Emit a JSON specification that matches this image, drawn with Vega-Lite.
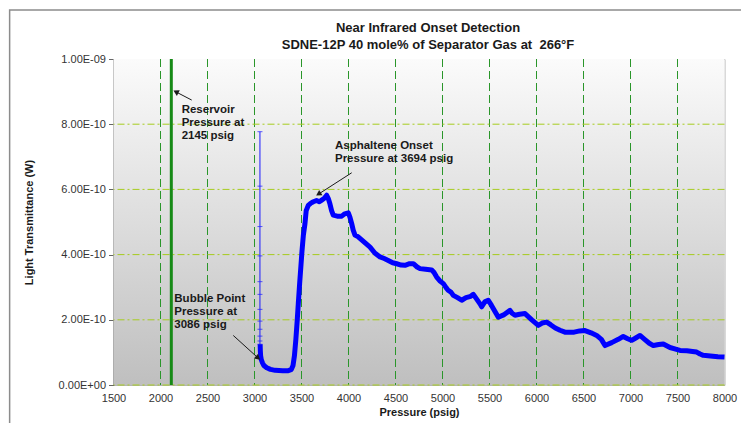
{
  "$schema": "https://vega.github.io/schema/vega-lite/v6.json",
  "width": 611,
  "height": 326,
  "autosize": {"type": "none"},
  "padding": {"left": 113.5, "top": 59, "right": 16, "bottom": 38},
  "background": "#ffffff",
  "config": {
    "font": "Liberation Sans",
    "view": {"stroke": "#b4b4b4", "strokeWidth": 1},
    "axis": {"labelFont": "Liberation Sans", "titleFont": "Liberation Sans", "labelColor": "#333333", "titleColor": "#1a1a1a", "labelFontSize": 11, "titleFontSize": 11, "grid": false}
  },
  "title": {
    "text": ["Near Infrared Onset Detection", "SDNE-12P 40 mole% of Separator Gas at \u00a0266°F"],
    "font": "Liberation Sans",
    "fontSize": 13,
    "fontWeight": "bold",
    "color": "#1a1a1a",
    "anchor": "middle",
    "dx": 9,
    "offset": -43,
    "lineHeight": 17
  },
  "datasets": {
    "curve": [
      {"p":3060,"t":1.25e-10},{"p":3062,"t":1.05e-10},{"p":3065,"t":0.9e-10},{"p":3072,"t":0.78e-10},{"p":3085,"t":0.68e-10},{"p":3100,"t":0.6e-10},{"p":3130,"t":0.53e-10},{"p":3170,"t":0.48e-10},{"p":3220,"t":0.45e-10},{"p":3300,"t":0.44e-10},{"p":3360,"t":0.44e-10},{"p":3390,"t":0.47e-10},{"p":3410,"t":0.6e-10},{"p":3425,"t":0.9e-10},{"p":3440,"t":1.4e-10},{"p":3455,"t":2.0e-10},{"p":3466,"t":2.5e-10},{"p":3480,"t":3.1e-10},{"p":3495,"t":3.7e-10},{"p":3505,"t":4.1e-10},{"p":3520,"t":4.6e-10},{"p":3537,"t":4.95e-10},{"p":3550,"t":5.35e-10},{"p":3572,"t":5.51e-10},{"p":3600,"t":5.58e-10},{"p":3626,"t":5.62e-10},{"p":3660,"t":5.66e-10},{"p":3690,"t":5.62e-10},{"p":3715,"t":5.67e-10},{"p":3740,"t":5.72e-10},{"p":3768,"t":5.82e-10},{"p":3785,"t":5.72e-10},{"p":3803,"t":5.55e-10},{"p":3820,"t":5.35e-10},{"p":3838,"t":5.21e-10},{"p":3880,"t":5.18e-10},{"p":3928,"t":5.18e-10},{"p":3960,"t":5.25e-10},{"p":3998,"t":5.28e-10},{"p":4015,"t":5.15e-10},{"p":4034,"t":4.95e-10},{"p":4050,"t":4.75e-10},{"p":4069,"t":4.6e-10},{"p":4100,"t":4.55e-10},{"p":4140,"t":4.45e-10},{"p":4180,"t":4.35e-10},{"p":4229,"t":4.23e-10},{"p":4280,"t":4.05e-10},{"p":4335,"t":3.93e-10},{"p":4380,"t":3.88e-10},{"p":4423,"t":3.82e-10},{"p":4470,"t":3.75e-10},{"p":4513,"t":3.72e-10},{"p":4560,"t":3.68e-10},{"p":4601,"t":3.67e-10},{"p":4650,"t":3.72e-10},{"p":4690,"t":3.72e-10},{"p":4730,"t":3.62e-10},{"p":4761,"t":3.57e-10},{"p":4820,"t":3.55e-10},{"p":4885,"t":3.53e-10},{"p":4910,"t":3.45e-10},{"p":4938,"t":3.31e-10},{"p":4970,"t":3.2e-10},{"p":5009,"t":3.11e-10},{"p":5040,"t":2.98e-10},{"p":5062,"t":2.9e-10},{"p":5090,"t":2.85e-10},{"p":5115,"t":2.75e-10},{"p":5160,"t":2.68e-10},{"p":5204,"t":2.6e-10},{"p":5250,"t":2.68e-10},{"p":5300,"t":2.72e-10},{"p":5328,"t":2.78e-10},{"p":5360,"t":2.65e-10},{"p":5399,"t":2.49e-10},{"p":5417,"t":2.4e-10},{"p":5450,"t":2.55e-10},{"p":5487,"t":2.6e-10},{"p":5520,"t":2.45e-10},{"p":5560,"t":2.25e-10},{"p":5594,"t":2.08e-10},{"p":5650,"t":2.15e-10},{"p":5718,"t":2.29e-10},{"p":5740,"t":2.2e-10},{"p":5771,"t":2.14e-10},{"p":5820,"t":2.17e-10},{"p":5878,"t":2.19e-10},{"p":5950,"t":2.0e-10},{"p":6019,"t":1.83e-10},{"p":6060,"t":1.9e-10},{"p":6108,"t":1.93e-10},{"p":6150,"t":1.85e-10},{"p":6200,"t":1.75e-10},{"p":6250,"t":1.68e-10},{"p":6303,"t":1.62e-10},{"p":6400,"t":1.62e-10},{"p":6460,"t":1.66e-10},{"p":6516,"t":1.67e-10},{"p":6580,"t":1.6e-10},{"p":6640,"t":1.52e-10},{"p":6690,"t":1.4e-10},{"p":6729,"t":1.21e-10},{"p":6800,"t":1.3e-10},{"p":6870,"t":1.4e-10},{"p":6923,"t":1.49e-10},{"p":6970,"t":1.42e-10},{"p":7013,"t":1.37e-10},{"p":7060,"t":1.45e-10},{"p":7101,"t":1.52e-10},{"p":7150,"t":1.4e-10},{"p":7200,"t":1.28e-10},{"p":7243,"t":1.21e-10},{"p":7300,"t":1.24e-10},{"p":7349,"t":1.26e-10},{"p":7420,"t":1.15e-10},{"p":7480,"t":1.1e-10},{"p":7527,"t":1.06e-10},{"p":7600,"t":1.05e-10},{"p":7660,"t":1.03e-10},{"p":7704,"t":1.01e-10},{"p":7740,"t":0.95e-10},{"p":7774,"t":0.91e-10},{"p":7850,"t":0.89e-10},{"p":7930,"t":0.87e-10},{"p":8000,"t":0.86e-10}
    ],
    "decomp": [
      {"p":3058,"t":7.77e-10},{"p":3058,"t":6.10e-10},{"p":3058,"t":4.86e-10},{"p":3058,"t":3.96e-10},{"p":3058,"t":3.17e-10},{"p":3058,"t":2.78e-10},{"p":3058,"t":2.32e-10},{"p":3058,"t":1.96e-10},{"p":3058,"t":1.71e-10},{"p":3058,"t":1.50e-10},{"p":3058,"t":1.35e-10},{"p":3058,"t":1.25e-10}
    ],
    "vgrid": [{"p":2000},{"p":2500},{"p":3000},{"p":3500},{"p":4000},{"p":4500},{"p":5000},{"p":5500},{"p":6000},{"p":6500},{"p":7000},{"p":7500}],
    "hgrid": [{"t":0},{"t":2e-10},{"t":4e-10},{"t":6e-10},{"t":8e-10}],
    "reservoir": [{"p":2115}],
    "labels": [
      {"label":"Reservoir\nPressure at\n2145 psig","p":2225,"t":8.62e-10},
      {"label":"Bubble Point\nPressure at\n3086 psig","p":2147,"t":2.81e-10},
      {"label":"Asphaltene Onset\nPressure at 3694 psig","p":3856,"t":7.53e-10}
    ],
    "arrows": [
      {"name":"reservoir","p":2332,"t":8.74e-10,"p2":2172,"t2":8.98e-10,"angle":297},
      {"name":"bubble","p":2774,"t":1.52e-10,"p2":3030,"t2":0.85e-10,"angle":132},
      {"name":"onset","p":4034,"t":6.51e-10,"p2":3689,"t2":5.87e-10,"angle":238}
    ]
  },
  "data": {"values": [{}]},
  "encoding": {
    "x": {"type": "quantitative"},
    "y": {"type": "quantitative"}
  },
  "layer": [
    {
      "mark": {"type": "rect", "color": {"gradient": "linear", "x1": 0, "y1": 0, "x2": 0, "y2": 1, "stops": [{"offset": 0, "color": "#fbfbfb"}, {"offset": 1, "color": "#bfbfbf"}]}},
      "encoding": {
        "x": {"datum": 1500, "type": "quantitative", "scale": {"domain": [1500, 8000], "nice": false, "zero": false},
          "axis": {"title": "Pressure (psig)", "format": "d", "values": [1500,2000,2500,3000,3500,4000,4500,5000,5500,6000,6500,7000,7500,8000], "domain": false, "ticks": false, "labelPadding": 7, "labelFlush": false, "titlePadding": 3, "titleFontWeight": "bold"}},
        "x2": {"datum": 8000},
        "y": {"datum": 0, "type": "quantitative", "scale": {"domain": [0, 1e-9], "nice": false},
          "axis": {"title": "Light Transmittance (W)", "values": [0, 2e-10, 4e-10, 6e-10, 8e-10, 1e-9], "domain": true, "domainColor": "#555555", "tickColor": "#666666", "tickSize": 5, "labelPadding": 3, "titlePadding": 24, "titleFontWeight": "bold",
            "labelExpr": "datum.value == 0 ? '0.00E+00' : format(datum.value / pow(10, floor(log(datum.value) / LN10 + 1e-6)), '.2f') + 'E-' + (abs(floor(log(datum.value) / LN10 + 1e-6)) < 10 ? '0' : '') + abs(floor(log(datum.value) / LN10 + 1e-6))"}},
        "y2": {"datum": 1e-9}
      }
    },
    {
      "mark": {"type": "rect", "fill": null, "fillOpacity": 0, "stroke": "#8c8c8c", "strokeWidth": 1.5, "clip": false},
      "encoding": {
        "x": {"datum": 395, "type": "quantitative"},
        "x2": {"datum": 8600},
        "y": {"datum": -2.5e-10, "type": "quantitative"},
        "y2": {"datum": 1.15e-9}
      }
    },
    {
      "data": {"name": "vgrid"},
      "mark": {"type": "rule", "color": "#2a962a", "strokeWidth": 1, "strokeDash": [8, 4]},
      "encoding": {"x": {"field": "p", "type": "quantitative"}}
    },
    {
      "data": {"name": "hgrid"},
      "mark": {"type": "rule", "color": "#a6cc1e", "strokeWidth": 1, "strokeDash": [7, 3, 2, 3]},
      "encoding": {"y": {"field": "t", "type": "quantitative"}}
    },
    {
      "data": {"name": "reservoir"},
      "mark": {"type": "rule", "color": "#168a16", "strokeWidth": 3},
      "encoding": {"x": {"field": "p", "type": "quantitative"}}
    },
    {
      "data": {"name": "decomp"},
      "mark": {"type": "line", "color": "#1a1aff", "strokeWidth": 1},
      "encoding": {"x": {"field": "p", "type": "quantitative"}, "y": {"field": "t", "type": "quantitative"}}
    },
    {
      "data": {"name": "decomp"},
      "mark": {"type": "tick", "orient": "horizontal", "color": "#1a1aff", "size": 5, "thickness": 1},
      "encoding": {"x": {"field": "p", "type": "quantitative"}, "y": {"field": "t", "type": "quantitative"}}
    },
    {
      "data": {"name": "curve"},
      "mark": {"type": "line", "color": "#0000ff", "strokeWidth": 5, "strokeJoin": "round"},
      "encoding": {"x": {"field": "p", "type": "quantitative"}, "y": {"field": "t", "type": "quantitative"}}
    },
    {
      "data": {"name": "arrows"},
      "mark": {"type": "rule", "color": "#1a1a1a", "strokeWidth": 1},
      "encoding": {"x": {"field": "p", "type": "quantitative"}, "y": {"field": "t", "type": "quantitative"}, "x2": {"field": "p2"}, "y2": {"field": "t2"}}
    },
    {
      "data": {"name": "arrows"},
      "mark": {"type": "point", "shape": "triangle", "filled": true, "color": "#1a1a1a", "size": 40, "opacity": 1},
      "encoding": {"x": {"field": "p2", "type": "quantitative"}, "y": {"field": "t2", "type": "quantitative"}, "angle": {"field": "angle", "type": "quantitative", "scale": null}}
    },
    {
      "data": {"name": "labels"},
      "mark": {"type": "text", "align": "left", "baseline": "top", "lineBreak": "\n", "lineHeight": 13, "font": "Liberation Sans", "fontSize": 11.5, "fontWeight": "bold", "color": "#1a1a1a"},
      "encoding": {"x": {"field": "p", "type": "quantitative"}, "y": {"field": "t", "type": "quantitative"}, "text": {"field": "label"}}
    }
  ]
}
